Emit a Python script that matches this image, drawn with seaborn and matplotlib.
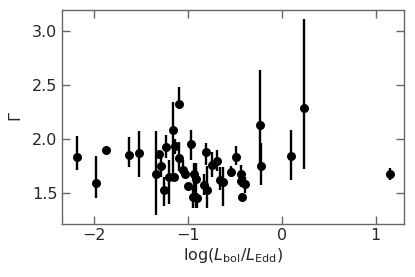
import numpy as np
import pandas as pd
import matplotlib
matplotlib.use("Agg")
import matplotlib.pyplot as plt
import seaborn as sns

# ข้อมูล: log(Lbol/LEdd), Gamma, ขอบบน/ล่างของ error bar
log_edd = [-2.18, -1.98, -1.87, -1.62, -1.52, -1.34, -1.31, -1.28, -1.25, -1.23,
           -1.20, -1.16, -1.15, -1.13, -1.09, -1.09, -1.05, -1.03, -1.00, -0.96,
           -0.93, -0.94, -0.91, -0.90, -0.83, -0.81, -0.80, -0.74, -0.69, -0.66,
           -0.63, -0.54, -0.49, -0.43, -0.43, -0.42, -0.39, -0.23, -0.22, 0.10,
           0.24, 1.15]
gamma = [1.83, 1.59, 1.90, 1.85, 1.87, 1.67, 1.86, 1.75, 1.53, 1.92,
         1.65, 2.08, 1.65, 1.93, 2.32, 1.82, 1.71, 1.67, 1.56, 1.95,
         1.67, 1.46, 1.63, 1.45, 1.57, 1.88, 1.53, 1.76, 1.79, 1.62,
         1.60, 1.69, 1.83, 1.67, 1.61, 1.46, 1.58, 2.13, 1.75, 1.84,
         2.29, 1.67]
gamma_hi = [2.03, 1.84, 1.90, 2.02, 2.07, 2.07, 1.88, 1.82, 1.65, 2.04,
            1.80, 2.34, 1.65, 2.00, 2.48, 1.97, 1.80, 1.70, 1.58, 2.08,
            1.78, 1.54, 1.78, 1.50, 1.67, 1.96, 1.75, 1.88, 1.90, 1.74,
            1.74, 1.75, 1.93, 1.76, 1.67, 1.50, 1.65, 2.64, 1.96, 2.08,
            3.11, 1.73]
gamma_lo = [1.71, 1.45, 1.90, 1.74, 1.65, 1.29, 1.82, 1.65, 1.38, 1.82,
            1.40, 1.65, 1.65, 1.86, 2.30, 1.70, 1.66, 1.64, 1.53, 1.80,
            1.41, 1.36, 1.36, 1.36, 1.48, 1.76, 1.36, 1.65, 1.70, 1.53,
            1.38, 1.65, 1.76, 1.60, 1.55, 1.43, 1.50, 1.74, 1.57, 1.62,
            1.72, 1.62]

df = pd.DataFrame({"x": log_edd, "g": gamma, "hi": gamma_hi, "lo": gamma_lo})

sns.set_theme(style="ticks")
plt.rcParams["font.family"] = ["DejaVu Sans"]
plt.rcParams["mathtext.fontset"] = "dejavusans"

fig = plt.figure(figsize=(4.15, 2.77), dpi=100)
ax = fig.add_axes([0.1487, 0.1913, 0.8248, 0.7726])

# error bar แนวตั้ง + จุด
ax.vlines(df["x"], df["lo"], df["hi"], color="black", linewidth=1.7, zorder=2)
sns.scatterplot(data=df, x="x", y="g", ax=ax, color="black", s=42,
                edgecolor="black", linewidth=0, zorder=3)

ax.set_xlim(-2.34, 1.30)
ax.set_ylim(1.21, 3.195)
ax.set_xticks([-2, -1, 0, 1])
ax.set_yticks([1.5, 2.0, 2.5, 3.0])
ax.set_xlabel(r"log($L_{\rm bol}/L_{\rm Edd}$)", fontsize=11.5, labelpad=2)
ax.set_ylabel(r"$\Gamma$", fontsize=11.5, labelpad=6)

for s in ax.spines.values():
    s.set_color("#666666")
    s.set_linewidth(1.0)
ax.tick_params(direction="in", length=6, width=1.0, color="#666666",
               top=True, right=True, labelsize=11.5, pad=3)

fig.savefig("out.png", dpi=100)
